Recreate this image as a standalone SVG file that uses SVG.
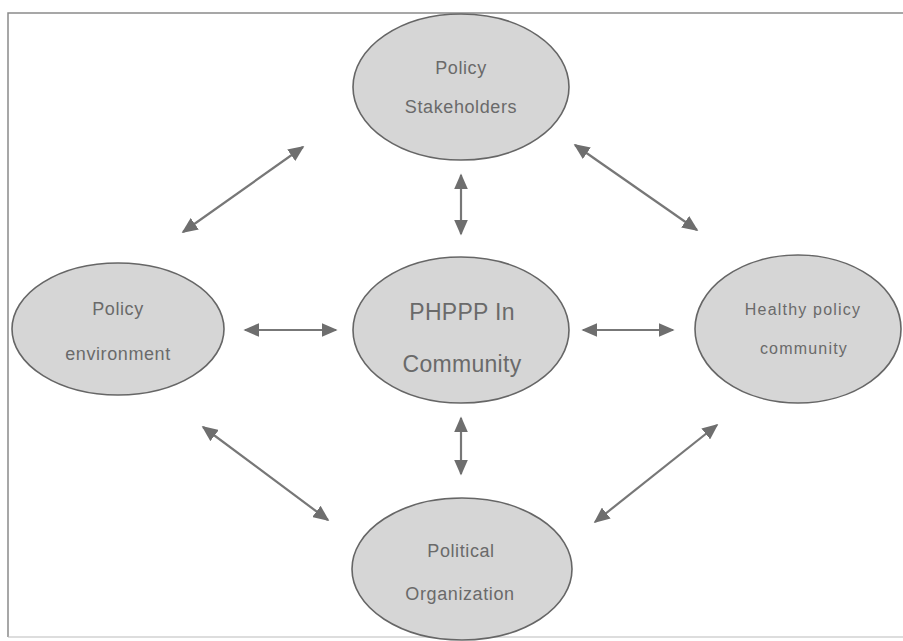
<svg xmlns="http://www.w3.org/2000/svg" width="903" height="641" viewBox="0 0 903 641">
<defs>
<style>
.node ellipse{fill:#d6d6d6;stroke:#666;stroke-width:1.6}
.lbl{font-family:"Liberation Sans",Arial,sans-serif;fill:#6a6a6a;text-anchor:middle;font-size:18px;letter-spacing:0.6px}
.big{font-size:23px;letter-spacing:0.3px}
.sm{font-size:16px;letter-spacing:1.2px}
.conn line{stroke:#777;stroke-width:2.2;marker-start:url(#ah);marker-end:url(#ah)}
</style>
<marker id="ah" viewBox="0 0 10 10" refX="9" refY="5" markerWidth="16" markerHeight="14" markerUnits="userSpaceOnUse" orient="auto-start-reverse" preserveAspectRatio="none">
<path d="M0,0 L10,5 L0,10 Z" fill="#6e6e6e"/>
</marker>
</defs>
<rect x="0" y="0" width="903" height="641" fill="#fff"/>
<path d="M8,637 L8,13 L903,13" fill="none" stroke="#8a8a8a" stroke-width="1.5"/>
<line x1="8" y1="637" x2="903" y2="637" stroke="#bbb" stroke-width="1"/>
<g class="conn" id="connectors">
<line x1="183" y1="232" x2="303" y2="147"/>
<line x1="575" y1="145" x2="697" y2="230"/>
<line x1="461" y1="175" x2="461" y2="234"/>
<line x1="245" y1="330" x2="336" y2="330"/>
<line x1="583" y1="330" x2="673" y2="330"/>
<line x1="461" y1="418" x2="461" y2="474"/>
<line x1="203" y1="427" x2="328" y2="520"/>
<line x1="717" y1="425" x2="595" y2="522"/>
</g>
<g class="node" id="stakeholders">
<ellipse cx="461" cy="87" rx="108" ry="73"/>
<text class="lbl" x="461" y="74">Policy</text>
<text class="lbl" x="461" y="113">Stakeholders</text>
</g>
<g class="node" id="environment">
<ellipse cx="118" cy="329" rx="106" ry="66"/>
<text class="lbl" x="118" y="315">Policy</text>
<text class="lbl" x="118" y="360">environment</text>
</g>
<g class="node" id="phppp">
<ellipse cx="461" cy="330" rx="108" ry="73"/>
<text class="lbl big" x="462" y="320">PHPPP In</text>
<text class="lbl big" x="462" y="372">Community</text>
</g>
<g class="node" id="healthy">
<ellipse cx="798" cy="329" rx="103" ry="74"/>
<text class="lbl sm" x="803" y="315">Healthy policy</text>
<text class="lbl sm" x="804" y="354">community</text>
</g>
<g class="node" id="political">
<ellipse cx="462" cy="569" rx="110" ry="71"/>
<text class="lbl" x="461" y="557">Political</text>
<text class="lbl" x="460" y="600">Organization</text>
</g>
</svg>
